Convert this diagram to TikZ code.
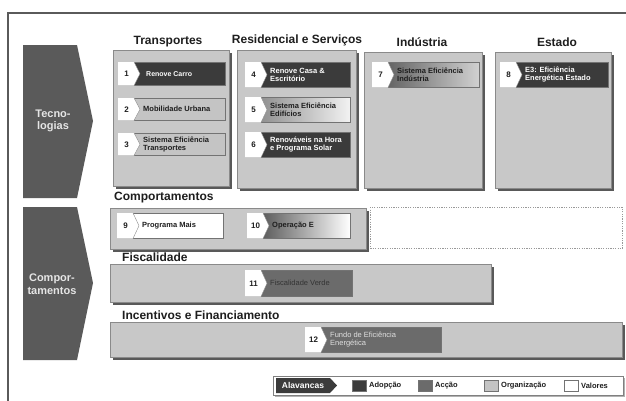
\documentclass[tikz,border=0pt]{standalone}
\usepackage{fontspec}
\setmainfont{Liberation Sans}
\usetikzlibrary{shadows}
\definecolor{adop}{HTML}{3B3B3B}
\definecolor{acc}{HTML}{6B6B6B}
\definecolor{org}{HTML}{C4C4C4}
\definecolor{panelf}{HTML}{C8C8C8}
\definecolor{panelb}{HTML}{8A8A8A}
\definecolor{arrowf}{HTML}{5A5A5A}
\definecolor{txtd}{HTML}{1E1E1E}
\definecolor{framec}{HTML}{5A5A5A}
\tikzset{
  panel/.style={draw=panelb, line width=0.8pt, fill=panelf, inner sep=0pt, anchor=north west,
    drop shadow={shadow xshift=2.2pt, shadow yshift=-2.2pt, fill=black, opacity=0.65}},
  itembox/.style={draw=black!55, line width=0.5pt, inner sep=0pt, anchor=north west},
  numtxt/.style={font=\fontsize{8}{9}\selectfont\bfseries, text=txtd, inner sep=0pt},
  itxt/.style={font=\fontsize{7.5}{8.3}\selectfont\bfseries, align=left, inner sep=0pt, anchor=west},
  head/.style={font=\fontsize{12}{14}\selectfont\bfseries, text=txtd, inner sep=0pt},
  seclabel/.style={font=\fontsize{12}{14}\selectfont\bfseries, text=txtd, inner sep=0pt, anchor=west},
  arrowtxt/.style={font=\fontsize{11}{12.5}\selectfont\bfseries, text=black!10, align=center, inner sep=0pt},
  legtxt/.style={font=\fontsize{7.5}{9}\selectfont\bfseries, text=txtd, inner sep=0pt, anchor=west},
  legsq/.style={draw=black!55, line width=0.5pt, minimum width=14pt, minimum height=11pt, inner sep=0pt},
}
% name, x1, y1, x2, y2, fill style, number, text, text style
\newcommand\mkitem[9]{%
  \node[itembox, #6, minimum width={#4-#2}, minimum height={#5-#3}] (#1) at (#2,#3) {};
  \fill[white] (#1.north west) -- ([xshift=16pt]#1.north west) -- ([xshift=22pt]#1.west)
     -- ([xshift=16pt]#1.south west) -- (#1.south west) -- cycle;
  \draw[black!45, line width=0.4pt] ([xshift=16pt]#1.north west) -- ([xshift=22pt]#1.west)
     -- ([xshift=16pt]#1.south west);
  \node[numtxt] (#1n) at ([xshift=8.5pt]#1.west) {#7};
  \node[itxt, #9] (#1t) at ([xshift=25pt]#1.west) {#8};
}
\newcommand\mkpanel[5]{%
  \node[panel, minimum width={#4-#2}, minimum height={#5-#3}] (#1) at (#2,#3) {};
}
\begin{document}
\begin{tikzpicture}[x=1pt,y=-1pt]
\useasboundingbox (0,0) rectangle (626,400);
\fill[white] (0,0) rectangle (626,400);
% frame
\draw[framec, line width=1.3pt] (8,401) -- (8,13) -- (627,13);

% left arrows
\fill[arrowf] (23,45) -- (77,45) -- (93,121) -- (77,198) -- (23,198) -- cycle;
\node[arrowtxt] (tec) at (53,121) {Tecno-\\logias};
\fill[arrowf] (23,207) -- (77,207) -- (93,283) -- (77,360) -- (23,360) -- cycle;
\node[arrowtxt] (comp) at (52,284) {Compor-\\tamentos};

% column headers
\node[head] (hT) at (168,42) {Transportes};
\node[head] (hR) at (297,40) {Residencial e Serviços};
\node[head] (hI) at (422,42) {Indústria};
\node[head] (hE) at (557,42) {Estado};

% column panels
\mkpanel{pT}{113}{50}{229}{186}
\mkpanel{pR}{237}{50}{356}{188}
\mkpanel{pI}{364}{52}{482}{188}
\mkpanel{pE}{495}{52}{611}{188}

% items
\mkitem{i1}{118}{62}{225}{85}{fill=adop}{1}{Renove Carro}{text=white, font=\fontsize{7}{8}\selectfont\bfseries, xshift=3pt}
\mkitem{i2}{118}{98}{225}{120}{fill=org}{2}{Mobilidade Urbana}{text=txtd}
\mkitem{i3}{118}{133}{225}{155}{fill=org}{3}{Sistema Eficiência\\Transportes}{text=txtd}
\mkitem{i4}{245}{62}{350}{87}{fill=adop}{4}{Renove Casa \&\\Escritório}{text=white}
\mkitem{i5}{245}{97}{350}{122}{left color=black!50, right color=black!5}{5}{Sistema Eficiência\\Edifícios}{text=txtd}
\mkitem{i6}{245}{132}{350}{157}{fill=adop}{6}{Renováveis na Hora\\e Programa Solar}{text=white}
\mkitem{i7}{372}{62}{479}{87}{left color=black!68, right color=black!18}{7}{Sistema Eficiência\\Indústria}{text=txtd}
\mkitem{i8}{500}{62}{608}{87}{fill=adop}{8}{E3: Eficiência\\Energética Estado}{text=white}

% Comportamentos
\node[seclabel] (lC) at (114,198) {Comportamentos};
\mkpanel{pC}{110}{208}{366}{249}
\node[draw=black!40, line width=0.6pt, dash pattern=on 1.2pt off 1.2pt, minimum width=252pt, minimum height=41pt, inner sep=0pt, anchor=north west] (dC) at (370,207) {};
\mkitem{i9}{117}{213}{223}{238}{fill=white}{9}{Programa Mais}{text=txtd}
\mkitem{i10}{247}{213}{350}{238}{left color=black!75, right color=white}{10}{Operação E}{text=txtd}

% Fiscalidade
\node[seclabel] (lF) at (122,257) {Fiscalidade};
\mkpanel{pF}{110}{264}{491}{302}
\mkitem{i11}{245}{270}{352}{296}{fill=acc}{11}{Fiscalidade Verde}{text=black!80, font=\fontsize{7.5}{8.3}\selectfont}

% Incentivos
\node[seclabel] (lI) at (122,315) {Incentivos e Financiamento};
\mkpanel{pIF}{110}{322}{622}{357}
\mkitem{i12}{305}{327}{441}{352}{fill=acc}{12}{Fundo de Eficiência\\Energética}{text=black!12, font=\fontsize{7.5}{8.3}\selectfont}

% legend
\node[draw=black!50, line width=0.7pt, fill=white, minimum width=350pt, minimum height=19pt, inner sep=0pt, anchor=north west,
  drop shadow={shadow xshift=1.2pt, shadow yshift=-1.2pt, fill=black, opacity=0.3}] (leg) at (273,376) {};
\fill[adop] (276,378) -- (330,378) -- (337,385.5) -- (330,393) -- (276,393) -- cycle;
\node[font=\fontsize{8.5}{10}\selectfont\bfseries, text=white, inner sep=0pt] (alav) at (303,385.5) {Alavancas};
\node[legsq, fill=adop] (sq1) at (359,385.5) {};
\node[legtxt] (t1) at (369,385.5) {Adopção};
\node[legsq, fill=acc] (sq2) at (425,385.5) {};
\node[legtxt] (t2) at (435,385.5) {Acção};
\node[legsq, fill=org] (sq3) at (491,385.5) {};
\node[legtxt] (t3) at (501,385.5) {Organização};
\node[legsq, fill=white] (sq4) at (571,385.5) {};
\node[legtxt] (t4) at (581,385.5) {Valores};
\end{tikzpicture}
\end{document}
